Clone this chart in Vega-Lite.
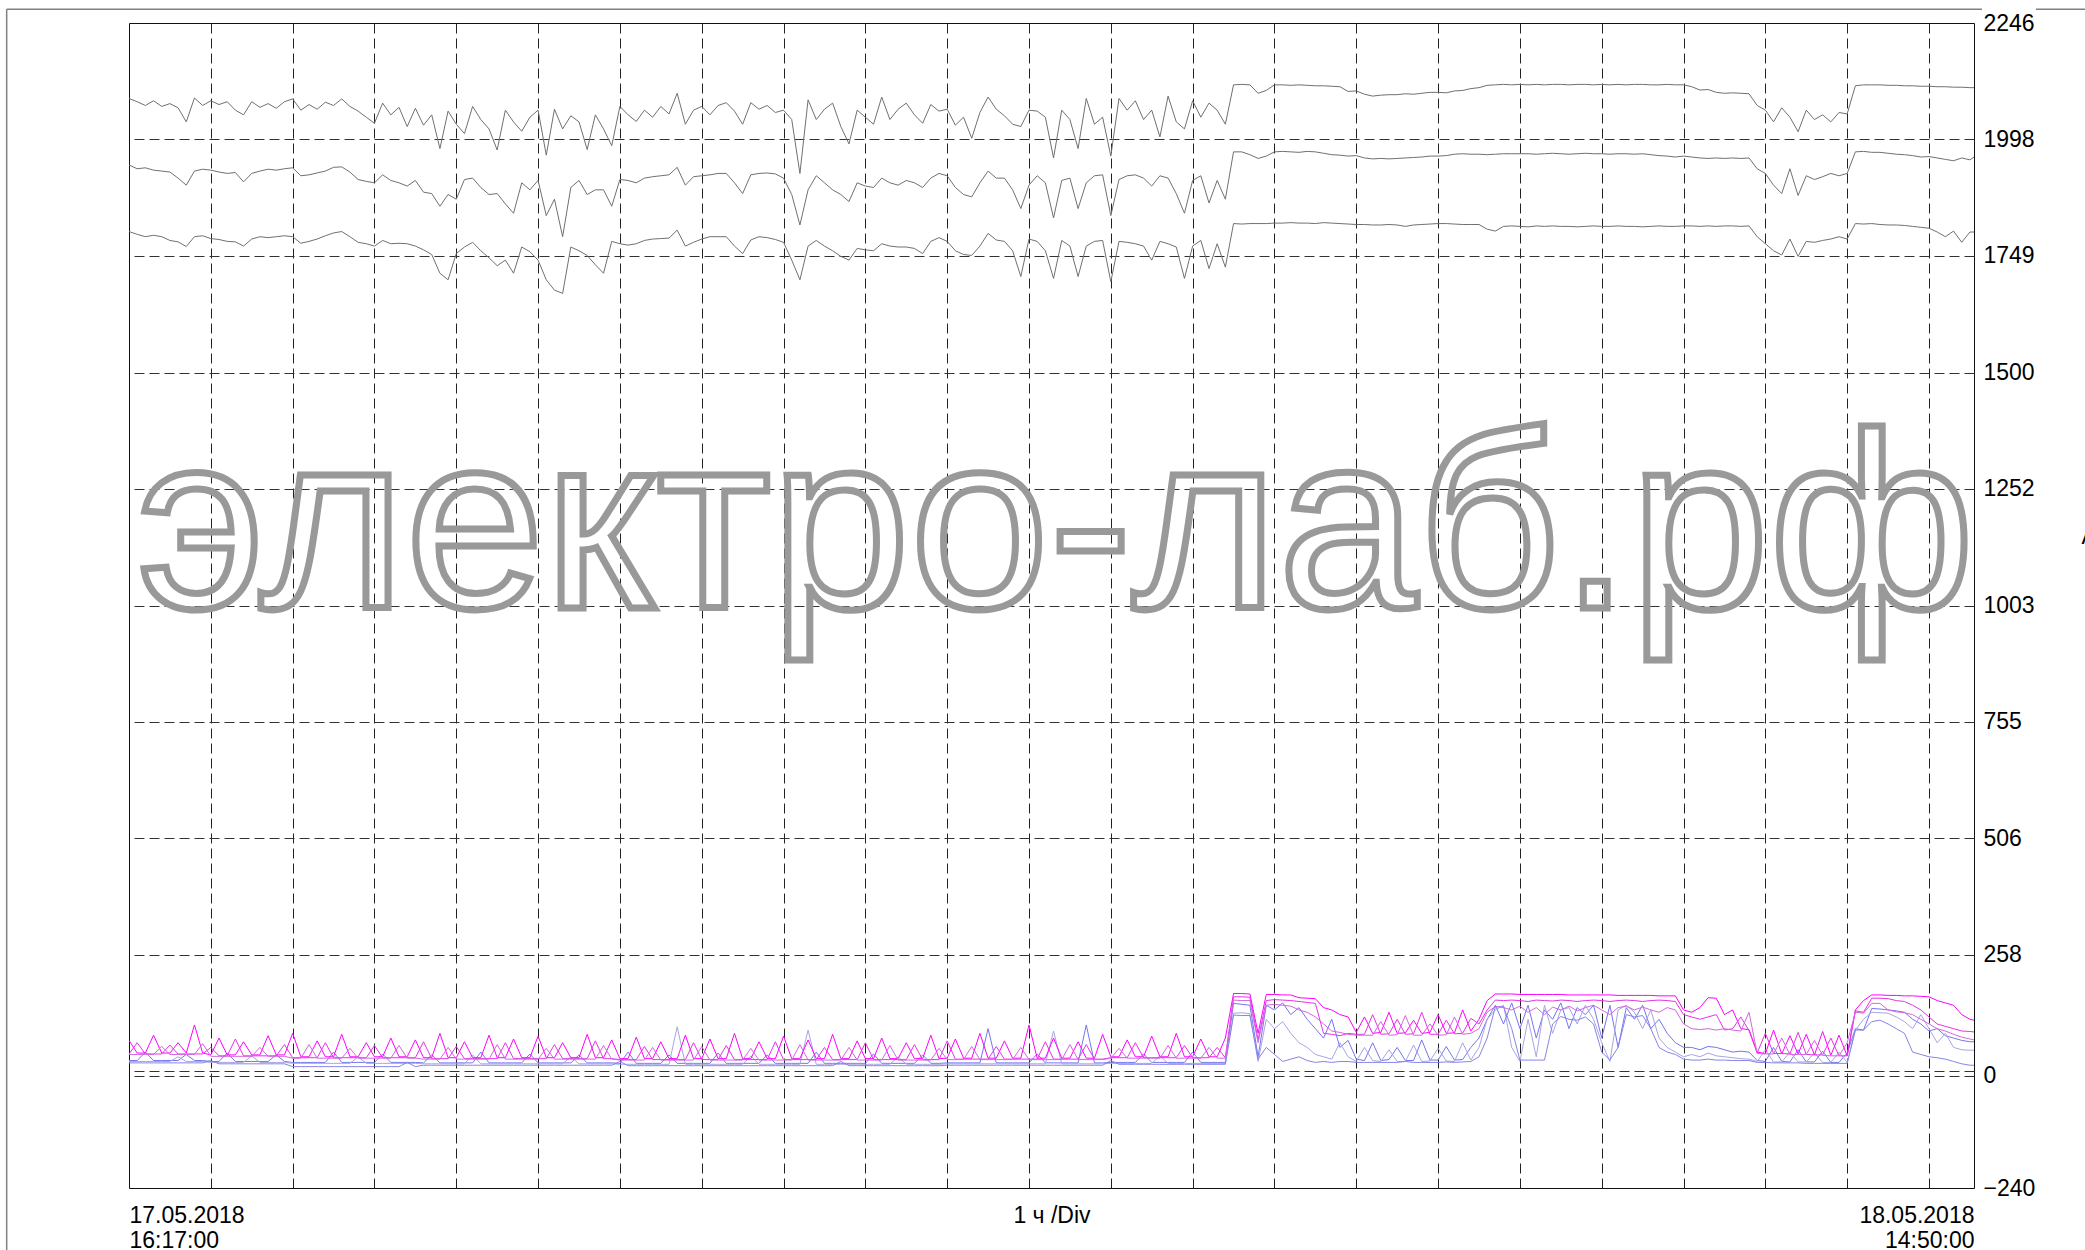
{
"$schema":"https://vega.github.io/schema/vega-lite/v6.json",
"width":1845,"height":1165,
"autosize":{"type":"none"},
"padding":{"left":129,"top":23,"right":111,"bottom":62},
"background":"white",
"config":{"view":{"stroke":"#111","strokeWidth":1},"font":"Liberation Sans"},
"layer":[
{"data":{"values":[{}]},"mark":{"type":"rule","color":"#808080","strokeWidth":1.5},
 "encoding":{"x":{"datum":-1.495,"type":"quantitative","scale":{"domain":[0,22.55],"nice":false,"zero":false}},"x2":{"datum":22.647},"y":{"datum":2275.2,"type":"quantitative","scale":{"domain":[-240,2246],"nice":false,"zero":false}}}},
{"data":{"values":[{}]},"mark":{"type":"rule","color":"#808080","strokeWidth":1.5},
 "encoding":{"x":{"datum":23.307,"type":"quantitative","scale":{"domain":[0,22.55],"nice":false,"zero":false}},"x2":{"datum":26},"y":{"datum":2275.2,"type":"quantitative","scale":{"domain":[-240,2246],"nice":false,"zero":false}}}},
{"data":{"values":[{}]},"mark":{"type":"rule","color":"#808080","strokeWidth":1.5},
 "encoding":{"x":{"datum":-1.495,"type":"quantitative","scale":{"domain":[0,22.55],"nice":false,"zero":false}},"y":{"datum":2275.2,"type":"quantitative","scale":{"domain":[-240,2246],"nice":false,"zero":false}},"y2":{"datum":-400}}},
{"data":{"values":[{}]},"mark":{"type":"text","text":"электро-лаб.рф","font":"Liberation Sans","fontSize":250,"align":"center","baseline":"alphabetic","fillOpacity":0,"stroke":"#999999","strokeWidth":7},
 "encoding":{"x":{"datum":11.33,"type":"quantitative","scale":{"domain":[0,22.55],"nice":false,"zero":false}},"y":{"datum":998,"type":"quantitative","scale":{"domain":[-240,2246],"nice":false,"zero":false}}}},
{"data":{"values":[
{"t":0,"u1":2085,"u2":1943,"u3":1801,"m1":75,"m2":46,"m3":45,"b1":32,"b2":30,"b3":27},
{"t":0.1,"u1":2078,"u2":1935,"u3":1795,"m1":48,"m2":70,"m3":45,"b1":32,"b2":30,"b3":27},
{"t":0.2,"u1":2070,"u2":1937,"u3":1790,"m1":48,"m2":46,"m3":45,"b1":50,"b2":30,"b3":27},
{"t":0.3,"u1":2080,"u2":1932,"u3":1793,"m1":86,"m2":46,"m3":45,"b1":32,"b2":30,"b3":27},
{"t":0.4,"u1":2068,"u2":1930,"u3":1790,"m1":48,"m2":46,"m3":62,"b1":32,"b2":30,"b3":27},
{"t":0.5,"u1":2074,"u2":1928,"u3":1782,"m1":48,"m2":65,"m3":45,"b1":32,"b2":30,"b3":27},
{"t":0.6,"u1":2065,"u2":1915,"u3":1779,"m1":70,"m2":46,"m3":45,"b1":32,"b2":40,"b3":27},
{"t":0.7,"u1":2035,"u2":1900,"u3":1769,"m1":48,"m2":46,"m3":45,"b1":45,"b2":30,"b3":27},
{"t":0.8,"u1":2086,"u2":1930,"u3":1790,"m1":108,"m2":46,"m3":45,"b1":32,"b2":30,"b3":27},
{"t":0.9,"u1":2070,"u2":1934,"u3":1792,"m1":48,"m2":46,"m3":68,"b1":32,"b2":30,"b3":27},
{"t":1.0,"u1":2080,"u2":1932,"u3":1786,"m1":44,"m2":60,"m3":41,"b1":30,"b2":28,"b3":32},
{"t":1.1,"u1":2072,"u2":1928,"u3":1784,"m1":80,"m2":42,"m3":41,"b1":30,"b2":28,"b3":25},
{"t":1.2,"u1":2078,"u2":1925,"u3":1780,"m1":44,"m2":42,"m3":41,"b1":48,"b2":28,"b3":25},
{"t":1.3,"u1":2060,"u2":1927,"u3":1779,"m1":44,"m2":78,"m3":41,"b1":30,"b2":28,"b3":25},
{"t":1.4,"u1":2050,"u2":1907,"u3":1770,"m1":72,"m2":42,"m3":41,"b1":30,"b2":28,"b3":25},
{"t":1.5,"u1":2078,"u2":1925,"u3":1785,"m1":44,"m2":42,"m3":41,"b1":30,"b2":42,"b3":25},
{"t":1.6,"u1":2066,"u2":1930,"u3":1790,"m1":44,"m2":42,"m3":60,"b1":30,"b2":28,"b3":25},
{"t":1.7,"u1":2074,"u2":1934,"u3":1788,"m1":85,"m2":42,"m3":41,"b1":30,"b2":28,"b3":25},
{"t":1.8,"u1":2064,"u2":1932,"u3":1790,"m1":44,"m2":42,"m3":41,"b1":44,"b2":28,"b3":25},
{"t":1.9,"u1":2078,"u2":1935,"u3":1792,"m1":44,"m2":66,"m3":41,"b1":30,"b2":28,"b3":25},
{"t":2.0,"u1":2084,"u2":1937,"u3":1790,"m1":90,"m2":38,"m3":37,"b1":28,"b2":26,"b3":19},
{"t":2.1,"u1":2060,"u2":1920,"u3":1776,"m1":40,"m2":38,"m3":37,"b1":28,"b2":26,"b3":19},
{"t":2.2,"u1":2072,"u2":1922,"u3":1780,"m1":40,"m2":38,"m3":66,"b1":28,"b2":26,"b3":19},
{"t":2.3,"u1":2062,"u2":1926,"u3":1785,"m1":74,"m2":38,"m3":37,"b1":28,"b2":26,"b3":19},
{"t":2.4,"u1":2077,"u2":1930,"u3":1792,"m1":40,"m2":70,"m3":37,"b1":28,"b2":26,"b3":19},
{"t":2.5,"u1":2070,"u2":1938,"u3":1798,"m1":40,"m2":38,"m3":37,"b1":50,"b2":26,"b3":19},
{"t":2.6,"u1":2084,"u2":1939,"u3":1801,"m1":88,"m2":38,"m3":37,"b1":28,"b2":26,"b3":19},
{"t":2.7,"u1":2068,"u2":1928,"u3":1790,"m1":40,"m2":38,"m3":58,"b1":28,"b2":26,"b3":19},
{"t":2.8,"u1":2058,"u2":1912,"u3":1778,"m1":40,"m2":38,"m3":37,"b1":28,"b2":40,"b3":19},
{"t":2.9,"u1":2045,"u2":1908,"u3":1775,"m1":70,"m2":38,"m3":37,"b1":28,"b2":26,"b3":19},
{"t":3.0,"u1":2032,"u2":1905,"u3":1770,"m1":40,"m2":64,"m3":37,"b1":28,"b2":26,"b3":19},
{"t":3.1,"u1":2075,"u2":1922,"u3":1782,"m1":40,"m2":38,"m3":37,"b1":46,"b2":26,"b3":19},
{"t":3.2,"u1":2050,"u2":1910,"u3":1775,"m1":80,"m2":38,"m3":37,"b1":28,"b2":26,"b3":19},
{"t":3.3,"u1":2066,"u2":1905,"u3":1776,"m1":40,"m2":38,"m3":64,"b1":28,"b2":26,"b3":19},
{"t":3.4,"u1":2025,"u2":1898,"u3":1775,"m1":40,"m2":38,"m3":37,"b1":28,"b2":26,"b3":28},
{"t":3.5,"u1":2064,"u2":1910,"u3":1770,"m1":76,"m2":38,"m3":37,"b1":28,"b2":26,"b3":19},
{"t":3.6,"u1":2028,"u2":1885,"u3":1762,"m1":38,"m2":72,"m3":35,"b1":27,"b2":25,"b3":22},
{"t":3.7,"u1":2050,"u2":1882,"u3":1752,"m1":38,"m2":36,"m3":35,"b1":44,"b2":25,"b3":22},
{"t":3.8,"u1":1978,"u2":1855,"u3":1712,"m1":90,"m2":36,"m3":35,"b1":27,"b2":25,"b3":22},
{"t":3.9,"u1":2058,"u2":1880,"u3":1698,"m1":38,"m2":36,"m3":60,"b1":27,"b2":25,"b3":22},
{"t":4.0,"u1":2030,"u2":1870,"u3":1754,"m1":38,"m2":62,"m3":35,"b1":27,"b2":25,"b3":22},
{"t":4.1,"u1":2010,"u2":1912,"u3":1768,"m1":72,"m2":36,"m3":35,"b1":27,"b2":25,"b3":22},
{"t":4.2,"u1":2068,"u2":1915,"u3":1778,"m1":38,"m2":36,"m3":35,"b1":27,"b2":44,"b3":22},
{"t":4.3,"u1":2040,"u2":1895,"u3":1760,"m1":38,"m2":36,"m3":35,"b1":50,"b2":25,"b3":22},
{"t":4.4,"u1":2020,"u2":1880,"u3":1745,"m1":86,"m2":36,"m3":35,"b1":27,"b2":25,"b3":22},
{"t":4.5,"u1":1975,"u2":1882,"u3":1728,"m1":38,"m2":36,"m3":66,"b1":27,"b2":25,"b3":22},
{"t":4.6,"u1":2060,"u2":1860,"u3":1740,"m1":38,"m2":70,"m3":35,"b1":27,"b2":25,"b3":22},
{"t":4.7,"u1":2035,"u2":1840,"u3":1712,"m1":78,"m2":36,"m3":35,"b1":27,"b2":25,"b3":22},
{"t":4.8,"u1":2015,"u2":1905,"u3":1768,"m1":38,"m2":36,"m3":35,"b1":27,"b2":25,"b3":22},
{"t":4.9,"u1":2045,"u2":1890,"u3":1758,"m1":38,"m2":36,"m3":35,"b1":46,"b2":25,"b3":22},
{"t":5.0,"u1":2060,"u2":1910,"u3":1740,"m1":84,"m2":36,"m3":35,"b1":27,"b2":25,"b3":22},
{"t":5.1,"u1":1964,"u2":1835,"u3":1698,"m1":38,"m2":36,"m3":58,"b1":27,"b2":25,"b3":22},
{"t":5.2,"u1":2062,"u2":1870,"u3":1676,"m1":38,"m2":66,"m3":35,"b1":27,"b2":25,"b3":22},
{"t":5.3,"u1":2020,"u2":1790,"u3":1669,"m1":70,"m2":36,"m3":35,"b1":27,"b2":25,"b3":22},
{"t":5.4,"u1":2048,"u2":1895,"u3":1768,"m1":38,"m2":36,"m3":35,"b1":27,"b2":40,"b3":22},
{"t":5.5,"u1":2035,"u2":1910,"u3":1760,"m1":38,"m2":36,"m3":35,"b1":44,"b2":25,"b3":22},
{"t":5.6,"u1":1976,"u2":1880,"u3":1750,"m1":88,"m2":36,"m3":35,"b1":27,"b2":25,"b3":22},
{"t":5.7,"u1":2050,"u2":1890,"u3":1730,"m1":38,"m2":74,"m3":35,"b1":27,"b2":25,"b3":22},
{"t":5.8,"u1":2020,"u2":1890,"u3":1712,"m1":38,"m2":36,"m3":64,"b1":27,"b2":25,"b3":22},
{"t":5.9,"u1":1984,"u2":1855,"u3":1780,"m1":76,"m2":36,"m3":35,"b1":27,"b2":25,"b3":22},
{"t":6.0,"u1":2068,"u2":1912,"u3":1775,"m1":36,"m2":34,"m3":33,"b1":26,"b2":24,"b3":30},
{"t":6.1,"u1":2050,"u2":1910,"u3":1772,"m1":36,"m2":34,"m3":33,"b1":50,"b2":24,"b3":21},
{"t":6.2,"u1":2036,"u2":1905,"u3":1775,"m1":82,"m2":34,"m3":33,"b1":26,"b2":24,"b3":21},
{"t":6.3,"u1":2060,"u2":1915,"u3":1782,"m1":36,"m2":62,"m3":33,"b1":26,"b2":24,"b3":21},
{"t":6.4,"u1":2045,"u2":1918,"u3":1785,"m1":36,"m2":34,"m3":60,"b1":26,"b2":24,"b3":21},
{"t":6.5,"u1":2068,"u2":1920,"u3":1786,"m1":72,"m2":34,"m3":33,"b1":26,"b2":24,"b3":21},
{"t":6.6,"u1":2052,"u2":1922,"u3":1787,"m1":36,"m2":34,"m3":33,"b1":44,"b2":24,"b3":21},
{"t":6.7,"u1":2096,"u2":1938,"u3":1804,"m1":36,"m2":34,"m3":33,"b1":26,"b2":104,"b3":21},
{"t":6.8,"u1":2030,"u2":1900,"u3":1770,"m1":86,"m2":34,"m3":33,"b1":26,"b2":24,"b3":21},
{"t":6.9,"u1":2060,"u2":1918,"u3":1778,"m1":36,"m2":70,"m3":33,"b1":26,"b2":24,"b3":21},
{"t":7.0,"u1":2068,"u2":1920,"u3":1785,"m1":36,"m2":34,"m3":62,"b1":26,"b2":24,"b3":21},
{"t":7.1,"u1":2050,"u2":1922,"u3":1790,"m1":78,"m2":34,"m3":33,"b1":26,"b2":24,"b3":21},
{"t":7.2,"u1":2070,"u2":1925,"u3":1790,"m1":36,"m2":34,"m3":33,"b1":48,"b2":24,"b3":21},
{"t":7.3,"u1":2076,"u2":1925,"u3":1790,"m1":36,"m2":64,"m3":33,"b1":26,"b2":24,"b3":21},
{"t":7.4,"u1":2058,"u2":1905,"u3":1770,"m1":90,"m2":34,"m3":33,"b1":26,"b2":24,"b3":21},
{"t":7.5,"u1":2030,"u2":1882,"u3":1754,"m1":36,"m2":34,"m3":33,"b1":26,"b2":24,"b3":21},
{"t":7.6,"u1":2076,"u2":1922,"u3":1783,"m1":36,"m2":34,"m3":58,"b1":26,"b2":42,"b3":21},
{"t":7.7,"u1":2062,"u2":1925,"u3":1790,"m1":72,"m2":34,"m3":33,"b1":26,"b2":24,"b3":21},
{"t":7.8,"u1":2070,"u2":1926,"u3":1788,"m1":36,"m2":34,"m3":33,"b1":44,"b2":24,"b3":21},
{"t":7.9,"u1":2055,"u2":1924,"u3":1784,"m1":36,"m2":72,"m3":33,"b1":26,"b2":24,"b3":21},
{"t":8.0,"u1":2060,"u2":1915,"u3":1778,"m1":84,"m2":34,"m3":33,"b1":26,"b2":24,"b3":21},
{"t":8.1,"u1":2040,"u2":1880,"u3":1740,"m1":36,"m2":34,"m3":33,"b1":26,"b2":24,"b3":21},
{"t":8.2,"u1":1925,"u2":1815,"u3":1698,"m1":36,"m2":34,"m3":66,"b1":26,"b2":24,"b3":21},
{"t":8.3,"u1":2082,"u2":1890,"u3":1770,"m1":76,"m2":34,"m3":33,"b1":26,"b2":97,"b3":21},
{"t":8.4,"u1":2040,"u2":1920,"u3":1782,"m1":36,"m2":34,"m3":33,"b1":50,"b2":24,"b3":21},
{"t":8.5,"u1":2062,"u2":1905,"u3":1770,"m1":36,"m2":60,"m3":33,"b1":26,"b2":24,"b3":21},
{"t":8.6,"u1":2075,"u2":1890,"u3":1760,"m1":88,"m2":34,"m3":33,"b1":26,"b2":24,"b3":21},
{"t":8.7,"u1":2025,"u2":1880,"u3":1748,"m1":36,"m2":34,"m3":33,"b1":26,"b2":24,"b3":30},
{"t":8.8,"u1":1988,"u2":1865,"u3":1740,"m1":36,"m2":34,"m3":60,"b1":26,"b2":24,"b3":21},
{"t":8.9,"u1":2060,"u2":1905,"u3":1765,"m1":74,"m2":34,"m3":33,"b1":26,"b2":24,"b3":21},
{"t":9.0,"u1":2045,"u2":1898,"u3":1762,"m1":36,"m2":70,"m3":33,"b1":26,"b2":24,"b3":21},
{"t":9.1,"u1":2030,"u2":1895,"u3":1760,"m1":36,"m2":34,"m3":33,"b1":46,"b2":24,"b3":21},
{"t":9.2,"u1":2088,"u2":1915,"u3":1775,"m1":80,"m2":34,"m3":33,"b1":26,"b2":24,"b3":21},
{"t":9.3,"u1":2040,"u2":1905,"u3":1770,"m1":36,"m2":34,"m3":64,"b1":26,"b2":24,"b3":21},
{"t":9.4,"u1":2062,"u2":1900,"u3":1768,"m1":36,"m2":34,"m3":33,"b1":26,"b2":40,"b3":21},
{"t":9.5,"u1":2075,"u2":1910,"u3":1768,"m1":70,"m2":34,"m3":33,"b1":26,"b2":24,"b3":21},
{"t":9.6,"u1":2050,"u2":1905,"u3":1765,"m1":36,"m2":66,"m3":33,"b1":26,"b2":24,"b3":21},
{"t":9.7,"u1":2032,"u2":1895,"u3":1754,"m1":36,"m2":34,"m3":33,"b1":44,"b2":24,"b3":21},
{"t":9.8,"u1":2072,"u2":1915,"u3":1780,"m1":86,"m2":34,"m3":33,"b1":26,"b2":24,"b3":21},
{"t":9.9,"u1":2058,"u2":1925,"u3":1788,"m1":36,"m2":34,"m3":58,"b1":26,"b2":24,"b3":21},
{"t":10.0,"u1":2062,"u2":1920,"u3":1780,"m1":37,"m2":74,"m3":34,"b1":27,"b2":25,"b3":22},
{"t":10.1,"u1":2028,"u2":1895,"u3":1760,"m1":78,"m2":35,"m3":34,"b1":27,"b2":25,"b3":22},
{"t":10.2,"u1":2045,"u2":1880,"u3":1752,"m1":37,"m2":35,"m3":34,"b1":27,"b2":25,"b3":22},
{"t":10.3,"u1":2000,"u2":1875,"u3":1750,"m1":37,"m2":35,"m3":62,"b1":27,"b2":25,"b3":22},
{"t":10.4,"u1":2055,"u2":1905,"u3":1770,"m1":90,"m2":35,"m3":34,"b1":27,"b2":25,"b3":22},
{"t":10.5,"u1":2088,"u2":1930,"u3":1797,"m1":37,"m2":35,"m3":34,"b1":100,"b2":25,"b3":22},
{"t":10.6,"u1":2062,"u2":1915,"u3":1783,"m1":37,"m2":62,"m3":34,"b1":27,"b2":25,"b3":22},
{"t":10.7,"u1":2048,"u2":1915,"u3":1780,"m1":74,"m2":35,"m3":34,"b1":27,"b2":25,"b3":22},
{"t":10.8,"u1":2030,"u2":1890,"u3":1760,"m1":37,"m2":35,"m3":34,"b1":27,"b2":25,"b3":22},
{"t":10.9,"u1":2025,"u2":1850,"u3":1705,"m1":37,"m2":35,"m3":60,"b1":27,"b2":25,"b3":22},
{"t":11.0,"u1":2060,"u2":1900,"u3":1785,"m1":108,"m2":35,"m3":34,"b1":27,"b2":25,"b3":22},
{"t":11.1,"u1":2058,"u2":1920,"u3":1780,"m1":37,"m2":35,"m3":34,"b1":46,"b2":25,"b3":22},
{"t":11.2,"u1":2045,"u2":1905,"u3":1760,"m1":37,"m2":72,"m3":34,"b1":27,"b2":25,"b3":22},
{"t":11.3,"u1":1958,"u2":1830,"u3":1701,"m1":80,"m2":35,"m3":34,"b1":27,"b2":95,"b3":22},
{"t":11.4,"u1":2060,"u2":1910,"u3":1782,"m1":37,"m2":35,"m3":34,"b1":27,"b2":25,"b3":22},
{"t":11.5,"u1":2040,"u2":1915,"u3":1770,"m1":37,"m2":35,"m3":66,"b1":27,"b2":25,"b3":22},
{"t":11.6,"u1":1978,"u2":1850,"u3":1705,"m1":72,"m2":35,"m3":34,"b1":27,"b2":25,"b3":22},
{"t":11.7,"u1":2085,"u2":1905,"u3":1770,"m1":37,"m2":66,"m3":34,"b1":108,"b2":25,"b3":22},
{"t":11.8,"u1":2030,"u2":1920,"u3":1780,"m1":37,"m2":35,"m3":34,"b1":27,"b2":25,"b3":22},
{"t":11.9,"u1":2045,"u2":1922,"u3":1782,"m1":88,"m2":35,"m3":34,"b1":27,"b2":25,"b3":22},
{"t":12.0,"u1":1962,"u2":1835,"u3":1694,"m1":40,"m2":38,"m3":37,"b1":28,"b2":26,"b3":32},
{"t":12.1,"u1":2085,"u2":1912,"u3":1780,"m1":40,"m2":38,"m3":58,"b1":28,"b2":26,"b3":24},
{"t":12.2,"u1":2060,"u2":1920,"u3":1778,"m1":76,"m2":38,"m3":37,"b1":28,"b2":26,"b3":24},
{"t":12.3,"u1":2080,"u2":1922,"u3":1775,"m1":40,"m2":70,"m3":37,"b1":28,"b2":26,"b3":24},
{"t":12.4,"u1":2040,"u2":1915,"u3":1770,"m1":40,"m2":38,"m3":37,"b1":46,"b2":26,"b3":24},
{"t":12.5,"u1":2060,"u2":1898,"u3":1740,"m1":84,"m2":38,"m3":37,"b1":28,"b2":26,"b3":24},
{"t":12.6,"u1":2003,"u2":1920,"u3":1780,"m1":40,"m2":38,"m3":37,"b1":28,"b2":42,"b3":24},
{"t":12.7,"u1":2090,"u2":1915,"u3":1775,"m1":40,"m2":38,"m3":64,"b1":28,"b2":26,"b3":24},
{"t":12.8,"u1":2035,"u2":1882,"u3":1768,"m1":90,"m2":38,"m3":37,"b1":28,"b2":26,"b3":24},
{"t":12.9,"u1":2020,"u2":1840,"u3":1701,"m1":40,"m2":64,"m3":37,"b1":28,"b2":26,"b3":24},
{"t":13.0,"u1":2080,"u2":1910,"u3":1770,"m1":40,"m2":38,"m3":37,"b1":50,"b2":26,"b3":24},
{"t":13.1,"u1":2045,"u2":1920,"u3":1782,"m1":78,"m2":38,"m3":37,"b1":28,"b2":26,"b3":24},
{"t":13.2,"u1":2075,"u2":1862,"u3":1722,"m1":40,"m2":38,"m3":60,"b1":28,"b2":26,"b3":24},
{"t":13.3,"u1":2060,"u2":1910,"u3":1775,"m1":40,"m2":60,"m3":37,"b1":28,"b2":26,"b3":24},
{"t":13.4,"u1":2030,"u2":1870,"u3":1725,"m1":80,"m2":38,"m3":37,"b1":28,"b2":26,"b3":24},
{"t":13.5,"u1":2114,"u2":1971,"u3":1818,"m1":175,"m2":168,"m3":161,"b1":154,"b2":133,"b3":129},
{"t":13.6,"u1":2115,"u2":1971,"u3":1817,"m1":175,"m2":168,"m3":160,"b1":152,"b2":134,"b3":128},
{"t":13.7,"u1":2114,"u2":1965,"u3":1818,"m1":174,"m2":167,"m3":160,"b1":150,"b2":132,"b3":128},
{"t":13.8,"u1":2096,"u2":1957,"u3":1818,"m1":90,"m2":76,"m3":70,"b1":40,"b2":30,"b3":35},
{"t":13.9,"u1":2102,"u2":1962,"u3":1818,"m1":173,"m2":160,"m3":150,"b1":150,"b2":120,"b3":60},
{"t":14.0,"u1":2114,"u2":1971,"u3":1819,"m1":173,"m2":162,"m3":152,"b1":140,"b2":100,"b3":45},
{"t":14.1,"u1":2114,"u2":1972,"u3":1819,"m1":172,"m2":161,"m3":150,"b1":155,"b2":115,"b3":30},
{"t":14.2,"u1":2113,"u2":1971,"u3":1820,"m1":172,"m2":160,"m3":148,"b1":130,"b2":90,"b3":35},
{"t":14.3,"u1":2114,"u2":1970,"u3":1819,"m1":166,"m2":158,"m3":140,"b1":145,"b2":70,"b3":40},
{"t":14.4,"u1":2113,"u2":1972,"u3":1819,"m1":165,"m2":156,"m3":135,"b1":120,"b2":60,"b3":32},
{"t":14.5,"u1":2112,"u2":1971,"u3":1818,"m1":164,"m2":154,"m3":125,"b1":100,"b2":45,"b3":28},
{"t":14.6,"u1":2112,"u2":1968,"u3":1820,"m1":145,"m2":90,"m3":110,"b1":80,"b2":40,"b3":30},
{"t":14.7,"u1":2111,"u2":1965,"u3":1819,"m1":140,"m2":88,"m3":95,"b1":120,"b2":35,"b3":28},
{"t":14.8,"u1":2110,"u2":1964,"u3":1818,"m1":130,"m2":85,"m3":92,"b1":60,"b2":70,"b3":30},
{"t":14.9,"u1":2100,"u2":1962,"u3":1817,"m1":125,"m2":90,"m3":88,"b1":75,"b2":40,"b3":30},
{"t":15.0,"u1":2101,"u2":1963,"u3":1816,"m1":92,"m2":88,"m3":86,"b1":35,"b2":30,"b3":28},
{"t":15.1,"u1":2094,"u2":1958,"u3":1816,"m1":125,"m2":88,"m3":86,"b1":32,"b2":60,"b3":28},
{"t":15.2,"u1":2090,"u2":1956,"u3":1815,"m1":90,"m2":130,"m3":86,"b1":70,"b2":32,"b3":28},
{"t":15.3,"u1":2092,"u2":1957,"u3":1815,"m1":92,"m2":88,"m3":115,"b1":32,"b2":30,"b3":28},
{"t":15.4,"u1":2093,"u2":1956,"u3":1816,"m1":135,"m2":89,"m3":86,"b1":34,"b2":55,"b3":28},
{"t":15.5,"u1":2093,"u2":1957,"u3":1815,"m1":90,"m2":120,"m3":87,"b1":60,"b2":30,"b3":28},
{"t":15.6,"u1":2095,"u2":1958,"u3":1812,"m1":91,"m2":88,"m3":128,"b1":32,"b2":30,"b3":30},
{"t":15.7,"u1":2094,"u2":1959,"u3":1815,"m1":118,"m2":89,"m3":86,"b1":32,"b2":65,"b3":28},
{"t":15.8,"u1":2096,"u2":1960,"u3":1816,"m1":90,"m2":135,"m3":86,"b1":76,"b2":30,"b3":28},
{"t":15.9,"u1":2098,"u2":1962,"u3":1817,"m1":92,"m2":88,"m3":110,"b1":33,"b2":31,"b3":28},
{"t":16.0,"u1":2098,"u2":1962,"u3":1818,"m1":130,"m2":88,"m3":86,"b1":33,"b2":58,"b3":28},
{"t":16.1,"u1":2097,"u2":1963,"u3":1818,"m1":90,"m2":118,"m3":87,"b1":62,"b2":31,"b3":29},
{"t":16.2,"u1":2101,"u2":1966,"u3":1817,"m1":91,"m2":89,"m3":125,"b1":33,"b2":30,"b3":28},
{"t":16.3,"u1":2102,"u2":1967,"u3":1816,"m1":140,"m2":90,"m3":88,"b1":34,"b2":70,"b3":29},
{"t":16.4,"u1":2106,"u2":1966,"u3":1816,"m1":95,"m2":122,"m3":90,"b1":60,"b2":33,"b3":30},
{"t":16.5,"u1":2108,"u2":1966,"u3":1816,"m1":120,"m2":110,"m3":100,"b1":80,"b2":60,"b3":40},
{"t":16.6,"u1":2113,"u2":1965,"u3":1806,"m1":160,"m2":140,"m3":135,"b1":120,"b2":120,"b3":80},
{"t":16.7,"u1":2114,"u2":1966,"u3":1802,"m1":174,"m2":161,"m3":147,"b1":150,"b2":140,"b3":147},
{"t":16.8,"u1":2115,"u2":1967,"u3":1812,"m1":174,"m2":160,"m3":145,"b1":110,"b2":150,"b3":147},
{"t":16.9,"u1":2114,"u2":1967,"u3":1813,"m1":174,"m2":161,"m3":140,"b1":155,"b2":60,"b3":100},
{"t":17.0,"u1":2115,"u2":1967,"u3":1812,"m1":173,"m2":160,"m3":148,"b1":100,"b2":30,"b3":33},
{"t":17.1,"u1":2114,"u2":1967,"u3":1811,"m1":173,"m2":158,"m3":135,"b1":150,"b2":120,"b3":33},
{"t":17.2,"u1":2115,"u2":1966,"u3":1813,"m1":173,"m2":161,"m3":145,"b1":80,"b2":40,"b3":33},
{"t":17.3,"u1":2114,"u2":1967,"u3":1812,"m1":173,"m2":160,"m3":130,"b1":140,"b2":150,"b3":33},
{"t":17.4,"u1":2115,"u2":1968,"u3":1813,"m1":173,"m2":159,"m3":146,"b1":120,"b2":90,"b3":110},
{"t":17.5,"u1":2115,"u2":1967,"u3":1812,"m1":173,"m2":161,"m3":140,"b1":155,"b2":140,"b3":126},
{"t":17.6,"u1":2114,"u2":1966,"u3":1812,"m1":172,"m2":160,"m3":148,"b1":100,"b2":145,"b3":120},
{"t":17.7,"u1":2115,"u2":1967,"u3":1811,"m1":172,"m2":158,"m3":138,"b1":145,"b2":110,"b3":118},
{"t":17.8,"u1":2115,"u2":1968,"u3":1812,"m1":172,"m2":160,"m3":145,"b1":130,"b2":150,"b3":125},
{"t":17.9,"u1":2114,"u2":1967,"u3":1813,"m1":172,"m2":161,"m3":150,"b1":150,"b2":120,"b3":110},
{"t":18.0,"u1":2115,"u2":1967,"u3":1812,"m1":172,"m2":160,"m3":140,"b1":80,"b2":70,"b3":50},
{"t":18.1,"u1":2114,"u2":1966,"u3":1812,"m1":172,"m2":158,"m3":130,"b1":150,"b2":30,"b3":33},
{"t":18.2,"u1":2115,"u2":1967,"u3":1813,"m1":171,"m2":160,"m3":145,"b1":60,"b2":140,"b3":60},
{"t":18.3,"u1":2114,"u2":1967,"u3":1812,"m1":171,"m2":161,"m3":148,"b1":145,"b2":150,"b3":130},
{"t":18.4,"u1":2115,"u2":1966,"u3":1812,"m1":171,"m2":160,"m3":140,"b1":120,"b2":135,"b3":125},
{"t":18.5,"u1":2115,"u2":1967,"u3":1811,"m1":171,"m2":158,"m3":146,"b1":150,"b2":100,"b3":128},
{"t":18.6,"u1":2114,"u2":1965,"u3":1812,"m1":171,"m2":160,"m3":140,"b1":100,"b2":140,"b3":100},
{"t":18.7,"u1":2114,"u2":1963,"u3":1813,"m1":170,"m2":161,"m3":135,"b1":120,"b2":80,"b3":60},
{"t":18.8,"u1":2115,"u2":1962,"u3":1812,"m1":170,"m2":160,"m3":145,"b1":90,"b2":60,"b3":50},
{"t":18.9,"u1":2114,"u2":1960,"u3":1812,"m1":170,"m2":158,"m3":140,"b1":70,"b2":50,"b3":45},
{"t":19.0,"u1":2114,"u2":1962,"u3":1813,"m1":140,"m2":130,"m3":110,"b1":60,"b2":40,"b3":35},
{"t":19.1,"u1":2110,"u2":1960,"u3":1813,"m1":135,"m2":125,"m3":100,"b1":60,"b2":45,"b3":33},
{"t":19.2,"u1":2103,"u2":1958,"u3":1812,"m1":145,"m2":120,"m3":98,"b1":55,"b2":40,"b3":33},
{"t":19.3,"u1":2104,"u2":1957,"u3":1813,"m1":166,"m2":125,"m3":100,"b1":62,"b2":48,"b3":35},
{"t":19.4,"u1":2098,"u2":1958,"u3":1812,"m1":165,"m2":130,"m3":97,"b1":60,"b2":42,"b3":33},
{"t":19.5,"u1":2096,"u2":1957,"u3":1813,"m1":130,"m2":97,"m3":100,"b1":55,"b2":40,"b3":33},
{"t":19.6,"u1":2097,"u2":1958,"u3":1813,"m1":140,"m2":100,"m3":97,"b1":50,"b2":38,"b3":32},
{"t":19.7,"u1":2096,"u2":1957,"u3":1812,"m1":100,"m2":125,"m3":95,"b1":52,"b2":36,"b3":32},
{"t":19.8,"u1":2095,"u2":1958,"u3":1813,"m1":98,"m2":96,"m3":135,"b1":50,"b2":35,"b3":32},
{"t":19.9,"u1":2070,"u2":1935,"u3":1790,"m1":50,"m2":48,"m3":47,"b1":32,"b2":30,"b3":28},
{"t":20.0,"u1":2060,"u2":1925,"u3":1775,"m1":47,"m2":90,"m3":46,"b1":30,"b2":55,"b3":28},
{"t":20.1,"u1":2035,"u2":1900,"u3":1760,"m1":97,"m2":47,"m3":46,"b1":60,"b2":29,"b3":27},
{"t":20.2,"u1":2065,"u2":1882,"u3":1751,"m1":46,"m2":47,"m3":80,"b1":30,"b2":29,"b3":27},
{"t":20.3,"u1":2045,"u2":1935,"u3":1785,"m1":85,"m2":46,"m3":45,"b1":29,"b2":50,"b3":27},
{"t":20.4,"u1":2014,"u2":1878,"u3":1748,"m1":46,"m2":92,"m3":45,"b1":55,"b2":29,"b3":27},
{"t":20.5,"u1":2060,"u2":1920,"u3":1780,"m1":88,"m2":45,"m3":45,"b1":29,"b2":29,"b3":26},
{"t":20.6,"u1":2040,"u2":1912,"u3":1778,"m1":44,"m2":44,"m3":75,"b1":29,"b2":48,"b3":26},
{"t":20.7,"u1":2050,"u2":1918,"u3":1782,"m1":94,"m2":44,"m3":43,"b1":52,"b2":28,"b3":26},
{"t":20.8,"u1":2035,"u2":1925,"u3":1785,"m1":43,"m2":80,"m3":42,"b1":28,"b2":28,"b3":26},
{"t":20.9,"u1":2055,"u2":1920,"u3":1790,"m1":86,"m2":42,"m3":42,"b1":28,"b2":50,"b3":26},
{"t":21.0,"u1":2052,"u2":1925,"u3":1785,"m1":42,"m2":42,"m3":70,"b1":48,"b2":28,"b3":26},
{"t":21.1,"u1":2112,"u2":1971,"u3":1818,"m1":140,"m2":138,"m3":135,"b1":100,"b2":97,"b3":97},
{"t":21.2,"u1":2114,"u2":1972,"u3":1817,"m1":160,"m2":135,"m3":133,"b1":97,"b2":120,"b3":97},
{"t":21.3,"u1":2114,"u2":1970,"u3":1818,"m1":172,"m2":165,"m3":154,"b1":143,"b2":135,"b3":115},
{"t":21.4,"u1":2114,"u2":1970,"u3":1816,"m1":172,"m2":165,"m3":154,"b1":142,"b2":134,"b3":118},
{"t":21.5,"u1":2113,"u2":1968,"u3":1815,"m1":171,"m2":164,"m3":140,"b1":140,"b2":133,"b3":110},
{"t":21.6,"u1":2113,"u2":1966,"u3":1815,"m1":171,"m2":160,"m3":136,"b1":138,"b2":125,"b3":100},
{"t":21.7,"u1":2112,"u2":1965,"u3":1814,"m1":170,"m2":158,"m3":134,"b1":135,"b2":115,"b3":90},
{"t":21.8,"u1":2112,"u2":1963,"u3":1812,"m1":170,"m2":150,"m3":130,"b1":120,"b2":100,"b3":50},
{"t":21.9,"u1":2111,"u2":1960,"u3":1810,"m1":169,"m2":140,"m3":120,"b1":110,"b2":130,"b3":45},
{"t":22.0,"u1":2111,"u2":1961,"u3":1808,"m1":168,"m2":125,"m3":110,"b1":95,"b2":100,"b3":40},
{"t":22.1,"u1":2110,"u2":1958,"u3":1800,"m1":160,"m2":110,"m3":100,"b1":100,"b2":70,"b3":38},
{"t":22.2,"u1":2110,"u2":1955,"u3":1790,"m1":155,"m2":105,"m3":95,"b1":85,"b2":90,"b3":35},
{"t":22.3,"u1":2109,"u2":1952,"u3":1802,"m1":150,"m2":100,"m3":88,"b1":80,"b2":60,"b3":30},
{"t":22.4,"u1":2109,"u2":1958,"u3":1778,"m1":130,"m2":95,"m3":82,"b1":75,"b2":55,"b3":25},
{"t":22.5,"u1":2108,"u2":1954,"u3":1800,"m1":120,"m2":94,"m3":78,"b1":72,"b2":54,"b3":22},
{"t":22.55,"u1":2108,"u2":1960,"u3":1800,"m1":118,"m2":93,"m3":76,"b1":72,"b2":54,"b3":22}
]},
"transform":[{"fold":["b1","b2","b3","m1","m2","m3","u1","u2","u3"],"as":["k","v"]}],
"mark":{"type":"line","strokeWidth":1,"clip":true},
"encoding":{
 "x":{"field":"t","type":"quantitative","title":"1 ч /Div","scale":{"domain":[0,22.55],"nice":false,"zero":false},
  "axis":{"orient":"bottom","values":[0,1,2,3,4,5,6,7,8,9,10,11,12,13,14,15,16,17,18,19,20,21,22,22.55],
   "domain":false,"ticks":false,"grid":true,"gridColor":"#222","gridDash":[10,5],"gridWidth":1,
   "gridOpacity":{"condition":{"test":"datum.value < 0.5 || datum.value > 22.3","value":0},"value":1},
   "labelExpr":"datum.value < 0.5 ? ['17.05.2018','16:17:00'] : (datum.value > 22.3 ? ['18.05.2018','14:50:00'] : '')",
   "labelAlign":{"condition":{"test":"datum.value < 0.5","value":"left"},"value":"right"},
   "labelBaseline":"top","labelPadding":16,"labelLineHeight":25,"labelFontSize":23,"labelFont":"Liberation Sans","labelColor":"#000",
   "labelOverlap":false,"labelBound":false,"labelFlush":false,
   "titleFontSize":23,"titleFontWeight":"normal","titleColor":"#000","titleFont":"Liberation Sans","titleX":922.5,"titleY":27,"titleBaseline":"middle","titleAlign":"center"}},
 "y":{"field":"v","type":"quantitative","title":"А","scale":{"domain":[-240,2246],"nice":false,"zero":false},
  "axis":{"orient":"right","values":[-240,0,9.6,258,506,755,1003,1252,1500,1749,1998,2246],
   "domain":false,"ticks":false,"grid":true,"gridColor":"#333","gridDash":[10,5],"gridWidth":1,
   "gridOpacity":{"condition":{"test":"datum.value < -200 || datum.value > 2200","value":0},"value":1},
   "labelExpr":"abs(datum.value - 9.6) < 0.5 ? '' : format(datum.value, 'd')",
   "labelPadding":9,"labelFontSize":23,"labelFont":"Liberation Sans","labelColor":"#000","labelBaseline":"middle","labelAlign":"left",
   "labelOverlap":false,"labelBound":false,"labelFlush":false,
   "titleAngle":0,"titleX":107,"titleY":513,"titleAlign":"left","titleBaseline":"middle","titleFontSize":23,"titleFontWeight":"normal","titleColor":"#000","titleFont":"Liberation Sans"}},
 "color":{"field":"k","type":"nominal","legend":null,
  "scale":{"domain":["b1","b2","b3","m1","m2","m3","u1","u2","u3"],"range":["#7575f0","#a6a6e2","#8585e6","#ff00ff","#e633e6","#d267e0","#707070","#707070","#707070"]}}
}}
]}
